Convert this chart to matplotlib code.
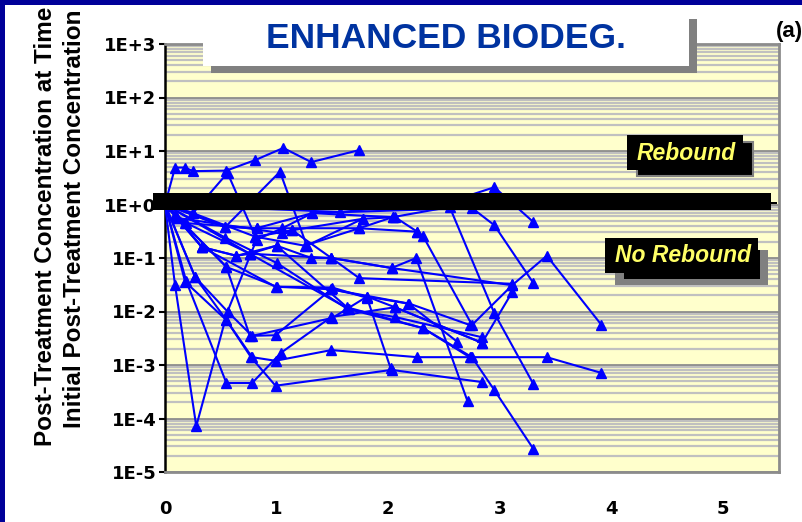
import matplotlib
matplotlib.use("Agg")
import matplotlib.pyplot as plt
from matplotlib.patches import Rectangle
from matplotlib.ticker import FixedLocator, FixedFormatter, LogLocator, NullFormatter

# ---------------- data (years after treatment, C(t)/C0) ----------------
s01_t = [0, 0.09, 0.18, 0.25, 0.55, 0.81, 1.06, 1.31, 1.74]
s01_c = [1, 4.9, 4.9, 4.2, 4.3, 6.8, 11.4, 6.2, 10.4]
s02_t = [0, 0.25, 0.56, 0.81, 1.14, 1.49, 2.03, 2.25, 2.71]
s02_c = [1, 0.69, 3.9, 0.25, 0.33, 0.10, 0.065, 0.10, 0.00021]
s03_t = [0, 0.54, 1.03, 1.27, 1.77, 2.06, 2.26, 2.31, 2.75, 3.11, 3.42, 3.91]
s03_c = [1, 0.38, 4.1, 0.17, 0.54, 0.58, 0.31, 0.26, 0.0056, 0.031, 0.11, 0.0056]
s04_t = [0, 1.57, 2.59, 2.95, 3.30]
s04_c = [1, 0.72, 1.2, 2.1, 0.47]
s05_t = [0, 0.18, 0.82, 1.74, 2.04, 2.55, 2.95, 3.30]
s05_c = [1, 0.45, 0.36, 0.36, 0.58, 0.90, 0.0093, 0.00044]
s06_t = [0, 0.09, 0.33, 0.64, 1.00, 1.31, 1.49, 1.74, 3.11]
s06_c = [1, 0.64, 0.16, 0.11, 0.17, 0.10, 0.10, 0.042, 0.033]
s07_t = [0, 0.09, 0.28, 0.56, 0.82, 1.05, 1.32, 2.75, 2.95, 3.30]
s07_c = [1, 0.031, 0.000072, 0.010, 0.22, 0.36, 0.69, 0.86, 0.41, 0.034]
s08_t = [0, 0.19, 0.55, 0.78, 1.04, 1.49, 2.06, 2.84, 3.11]
s08_c = [1, 0.037, 0.00046, 0.00046, 0.0017, 0.0079, 0.012, 0.0026, 0.023]
s09_t = [0, 0.27, 0.55, 0.78, 0.99, 1.49, 2.26, 2.74, 3.42, 3.91]
s09_c = [1, 0.044, 0.0069, 0.0014, 0.0012, 0.0019, 0.0014, 0.0014, 0.0014, 0.00071]
s10_t = [0, 0.55, 0.76, 0.99, 1.49, 1.81, 2.18, 2.62]
s10_c = [1, 0.068, 0.0035, 0.0036, 0.026, 0.019, 0.014, 0.0027]
s11_t = [0, 0.18, 0.55, 0.77, 0.99, 2.03, 2.84]
s11_c = [1, 0.036, 0.0069, 0.0014, 0.00041, 0.00081, 0.00048]
s12_t = [0, 0.11, 0.33, 0.99, 1.50, 1.81, 2.02]
s12_c = [1, 0.56, 0.16, 0.029, 0.028, 0.018, 0.00088]
s13_t = [0, 0.19, 0.76, 1.65, 2.31, 2.75, 2.95, 3.30]
s13_c = [1, 0.45, 0.12, 0.011, 0.0049, 0.0014, 0.00034, 0.000027]
s14_t = [0, 0.54, 1.00, 1.64, 2.06, 2.84]
s14_c = [1, 0.24, 0.081, 0.011, 0.0079, 0.0033]
s15_t = [0, 0.25, 0.81, 1.25, 1.74, 2.26]
s15_c = [1, 0.69, 0.25, 0.17, 0.36, 0.31]
s16_t = [0, 0.11, 1.05, 1.14, 1.77]
s16_c = [1, 0.56, 0.29, 0.33, 0.54]
s17_t = [0, 0.54, 0.82, 1.32, 2.04]
s17_c = [1, 0.38, 0.36, 0.69, 0.58]
s18_t = [0, 0.33, 0.64, 0.76, 1.49, 2.03, 3.11]
s18_c = [1, 0.16, 0.11, 0.12, 0.10, 0.065, 0.031]
s19_t = [0, 0.55, 1.00, 1.49, 2.19, 2.73]
s19_c = [1, 0.068, 0.029, 0.026, 0.014, 0.0056]
s20_t = [0, 0.27, 0.56, 0.78, 1.50, 1.81, 2.06, 2.84]
s20_c = [1, 0.044, 0.010, 0.0035, 0.0076, 0.019, 0.012, 0.0026]
s21_t = [0, 0.76, 1.00, 1.63, 2.31, 2.73]
s21_c = [1, 0.12, 0.17, 0.012, 0.0049, 0.0014]

x_ticks = [0, 1, 2, 3, 4, 5]
x_tick_labels = ["0", "1", "2", "3", "4", "5"]
y_ticks = [1e-5, 1e-4, 1e-3, 1e-2, 1e-1, 1e0, 1e1, 1e2, 1e3]
y_tick_labels = ["1E-5", "1E-4", "1E-3", "1E-2", "1E-1", "1E+0", "1E+1", "1E+2", "1E+3"]

title_text = "ENHANCED BIODEG."
panel_text = "(a)"
ylabel_line1 = "Post-Treatment Concentration at Time t"
ylabel_line2 = "Initial Post-Treatment Concentration"
rebound_text = "Rebound"
no_rebound_text = "No Rebound"

series = [(s01_t, s01_c), (s02_t, s02_c), (s03_t, s03_c), (s04_t, s04_c),
          (s05_t, s05_c), (s06_t, s06_c), (s07_t, s07_c), (s08_t, s08_c),
          (s09_t, s09_c), (s10_t, s10_c), (s11_t, s11_c), (s12_t, s12_c),
          (s13_t, s13_c), (s14_t, s14_c), (s15_t, s15_c), (s16_t, s16_c),
          (s17_t, s17_c), (s18_t, s18_c), (s19_t, s19_c), (s20_t, s20_c),
          (s21_t, s21_c)]

# ---------------- figure ----------------
W, H = 803, 522
fig = plt.figure(figsize=(W / 100, H / 100), dpi=100, facecolor="white")


def fx(px):
    return px / W


def fy(py):
    return 1 - py / H


def frect(x0, y0, x1, y1, **kw):
    r = Rectangle((fx(x0), fy(y1)), fx(x1) - fx(x0), fy(y0) - fy(y1),
                  transform=fig.transFigure, **kw)
    fig.add_artist(r)
    return r


ax = fig.add_axes([fx(165), fy(472), fx(779) - fx(165), fy(44) - fy(472)])
ax.set_facecolor("#FFFFCC")
ax.set_yscale("log")
ax.set_xlim(0, 5.5)
ax.set_ylim(1e-5, 1e3)

ax.yaxis.set_major_locator(FixedLocator(y_ticks))
ax.yaxis.set_major_formatter(FixedFormatter(y_tick_labels))
ax.yaxis.set_minor_locator(LogLocator(base=10, subs=range(2, 10), numticks=100))
ax.yaxis.set_minor_formatter(NullFormatter())
ax.xaxis.set_major_locator(FixedLocator(x_ticks))
ax.xaxis.set_major_formatter(FixedFormatter(x_tick_labels))

ax.grid(True, which="minor", axis="y", color="#C0C0C0", lw=1.6, zorder=0)
ax.grid(True, which="major", axis="y", color="#8C8C8C", lw=2.0, zorder=0)
ax.set_axisbelow(True)

ax.tick_params(axis="y", which="major", length=4, width=1.5, color="black",
               pad=2, labelsize=13)
ax.tick_params(axis="y", which="minor", length=0)
ax.tick_params(axis="x", which="both", length=0, pad=20, labelsize=13)
for lab in ax.get_xticklabels() + ax.get_yticklabels():
    lab.set_fontweight("bold")
    lab.set_family("DejaVu Sans")

ax.spines["left"].set_color("black")
ax.spines["left"].set_linewidth(1.8)
for s in ("right", "top", "bottom"):
    ax.spines[s].set_color("#8C8C8C")
    ax.spines[s].set_linewidth(2.0)

for t, c in series:
    ax.plot(t, c, color="#0000FF", lw=1.5, marker="^", ms=7.5,
            markeredgecolor="#0000FF", markerfacecolor="#0000FF", zorder=3)

# thick black threshold bar
frect(153, 193, 771, 210, facecolor="black", edgecolor="none", zorder=10)
frect(771, 202, 777, 204, facecolor="black", edgecolor="none", zorder=10)

# frame strips
frect(0, 0, W, 5, facecolor="#000099", edgecolor="none", zorder=20)
frect(0, 0, 5, H, facecolor="#000099", edgecolor="none", zorder=20)

# title box with shadow
frect(211, 19, 697, 73, facecolor="#808080", edgecolor="none", zorder=11)
frect(203, 11, 689, 66, facecolor="white", edgecolor="none", zorder=12)
fig.text(fx(446), fy(38), title_text, ha="center", va="center", fontsize=25.5,
         fontweight="bold", color="#0033A0", family="Liberation Sans", zorder=13)
fig.text(fx(789), fy(31), panel_text, ha="center", va="center", fontsize=16,
         fontweight="bold", color="black", family="Liberation Sans", zorder=13)

# Rebound box
frect(637, 142, 753, 176, facecolor="black", edgecolor="#808080", lw=1.5, zorder=11)
frect(627, 135, 743, 170, facecolor="black", edgecolor="none", zorder=12)
fig.text(fx(686), fy(153), rebound_text, ha="center", va="center", fontsize=16.5,
         fontweight="bold", fontstyle="italic", color="#FFFF66",
         family="Liberation Sans", zorder=13)

# No Rebound box
frect(615, 250, 768, 285, facecolor="#808080", edgecolor="none", zorder=11)
frect(624, 250, 760, 279, facecolor="black", edgecolor="none", zorder=11)
frect(605, 238, 758, 273, facecolor="black", edgecolor="none", zorder=12)
fig.text(fx(683), fy(256), no_rebound_text, ha="center", va="center", fontsize=16.5,
         fontweight="bold", fontstyle="italic", color="#FFFF66",
         family="Liberation Sans", zorder=13)

# y-axis label (two lines)
fig.text(fx(46), fy(446), ylabel_line1, rotation=90, ha="center", va="bottom",
         fontsize=17.5, fontweight="bold", family="Liberation Sans")
fig.text(fx(75), fy(219), ylabel_line2, rotation=90, ha="center", va="center",
         fontsize=17.5, fontweight="bold", family="Liberation Sans")

fig.savefig("out.png", dpi=100, facecolor="white")
